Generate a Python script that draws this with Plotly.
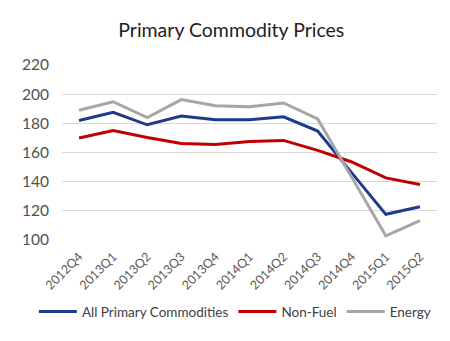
import plotly.graph_objects as go

quarters = ["2012Q4", "2013Q1", "2013Q2", "2013Q3", "2013Q4", "2014Q1",
            "2014Q2", "2014Q3", "2014Q4", "2015Q1", "2015Q2"]
all_primary = [182, 187.5, 179, 185, 182.5, 182.5, 184.5, 174.7, 146, 117.6, 122.8]
non_fuel = [170, 175, 170.3, 166.2, 165.5, 167.6, 168.3, 161.5, 153.5, 142.6, 138]
energy = [189, 194.8, 184, 196.3, 192, 191.3, 194, 183, 143, 102.8, 113.3]

series = [
    ("All Primary Commodities", all_primary, "#1F3A8A"),
    ("Non-Fuel", non_fuel, "#C00000"),
    ("Energy", energy, "#A6A6A6"),
]

fig = go.Figure()
for name, vals, color in series:
    fig.add_trace(go.Scatter(x=quarters, y=vals, name=name, mode="lines",
                             line=dict(color=color, width=3)))

font_family = "Lato, Carlito, Calibri, sans-serif"
fig.update_layout(
    width=450, height=341,
    margin=dict(l=62, r=13, t=65, b=101),
    paper_bgcolor="white", plot_bgcolor="white",
    title=dict(text="Primary Commodity Prices", x=0.514, xanchor="center",
               xref="container", y=0.912, yanchor="middle",
               font=dict(family=font_family, size=19.5, color="#222222")),
    font=dict(family=font_family, color="#595959"),
    xaxis=dict(showgrid=False, showline=False, tickangle=-45, ticks="",
               range=[-0.5, len(quarters) - 0.5], automargin=False,
               ticklabelstandoff=6,
               tickfont=dict(size=12.5, color="#595959")),
    yaxis=dict(range=[100, 220], dtick=20, showgrid=True, gridcolor="#D9D9D9",
               gridwidth=1, zeroline=False, showline=False, ticks="",
               automargin=False, ticklabelstandoff=12,
               tickfont=dict(size=15.5, color="#505050")),
    legend=dict(orientation="h", x=-0.075, xanchor="left", y=-0.41,
                yanchor="middle", font=dict(size=13.5, color="#404040"),
                itemwidth=38, tracegroupgap=0),
    showlegend=True,
)
fig.write_html("out.html")
